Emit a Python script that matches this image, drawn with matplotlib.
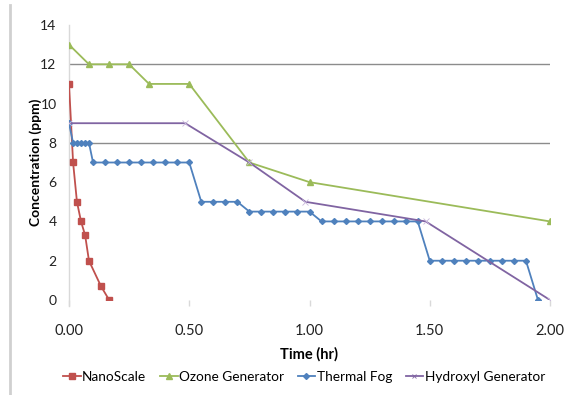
import matplotlib
matplotlib.use("Agg")
import matplotlib.pyplot as plt
from matplotlib.lines import Line2D

plt.rcParams['font.family'] = ['Lato', 'DejaVu Sans']

# data (time in hours, concentration in ppm)
nano_t = [0.0, 0.017, 0.033, 0.05, 0.067, 0.083, 0.133, 0.167]
nano_c = [11, 7, 5, 4, 3.3, 2, 0.7, 0]

ozone_t = [0.0, 0.083, 0.167, 0.25, 0.333, 0.5, 0.75, 1.0, 2.0]
ozone_c = [13, 12, 12, 12, 11, 11, 7, 6, 4]

fog_t = [0.0, 0.017, 0.033, 0.05, 0.067, 0.083,
         0.10, 0.15, 0.20, 0.25, 0.30, 0.35, 0.40, 0.45, 0.50,
         0.55, 0.60, 0.65, 0.70,
         0.75, 0.80, 0.85, 0.90, 0.95, 1.00,
         1.05, 1.10, 1.15, 1.20, 1.25, 1.30, 1.35, 1.40, 1.45,
         1.50, 1.55, 1.60, 1.65, 1.70, 1.75, 1.80, 1.85, 1.90,
         1.95]
fog_c = [9, 8, 8, 8, 8, 8,
         7, 7, 7, 7, 7, 7, 7, 7, 7,
         5, 5, 5, 5,
         4.5, 4.5, 4.5, 4.5, 4.5, 4.5,
         4, 4, 4, 4, 4, 4, 4, 4, 4,
         2, 2, 2, 2, 2, 2, 2, 2, 2,
         0]

hydroxyl_t = [0.0, 0.483, 0.75, 0.983, 1.483, 2.0]
hydroxyl_c = [9, 9, 7, 5, 4, 0]

x_ticks = [0.0, 0.5, 1.0, 1.5, 2.0]
y_ticks = [0, 2, 4, 6, 8, 10, 12, 14]
grid_levels = [8, 12]

RED = "#C0504D"
GREEN = "#9BBB59"
BLUE = "#4F81BD"
PURPLE = "#8064A2"

fig = plt.figure(figsize=(5.66, 3.95), dpi=100)
ax = fig.add_axes([69 / 566, 95 / 395, 481 / 566, 275 / 395])

for level in grid_levels:
    ax.axhline(level, color="#8C8C8C", lw=1.0, zorder=1)

ax.plot(nano_t, nano_c, color=RED, lw=1.3, marker="s", ms=4.5, label="NanoScale", zorder=3)
ax.plot(ozone_t, ozone_c, color=GREEN, lw=1.3, marker="^", ms=5, label="Ozone Generator", zorder=3)
ax.plot(fog_t, fog_c, color=BLUE, lw=1.3, marker="D", ms=3, label="Thermal Fog", zorder=3)
ax.plot(hydroxyl_t, hydroxyl_c, color=PURPLE, lw=1.3, marker="x", ms=4, mew=0.6,
        mec="#C9B8DC", label="Hydroxyl Generator", zorder=3)

ax.set_xlim(0, 2.0)
ax.set_ylim(0, 14)
ax.set_xticks(x_ticks)
ax.set_xticklabels([f"{v:.2f}" for v in x_ticks])
ax.set_yticks(y_ticks)

for side in ["top", "right", "bottom"]:
    ax.spines[side].set_visible(False)
ax.spines["left"].set_color("#D9D9D9")
ax.spines["left"].set_linewidth(1.0)
ax.spines["left"].set_bounds(-0.3, 14)

ax.tick_params(axis="y", length=0, pad=9, labelsize=10, labelcolor="#222222")
ax.tick_params(axis="x", length=4, width=1, color="#D9D9D9", pad=13,
               labelsize=10.5, labelcolor="#222222")

ax.set_xlabel("Time (hr)", fontsize=10.5, fontweight="bold", labelpad=7)
ax.set_ylabel("Concentration (ppm)", fontsize=10, fontweight="bold", labelpad=-1)

handles = [
    Line2D([], [], color=RED, lw=1.3, marker="s", ms=4),
    Line2D([], [], color=GREEN, lw=1.3, marker="^", ms=4),
    Line2D([], [], color=BLUE, lw=1.3, marker="D", ms=3),
    Line2D([], [], color=PURPLE, lw=1.3, marker="x", ms=3, mew=0.6),
]
labels = ["NanoScale", "Ozone Generator", "Thermal Fog", "Hydroxyl Generator"]
fig.legend(handles, labels, loc="center", bbox_to_anchor=(304 / 566, 0.045), ncol=4,
           frameon=False, fontsize=9.8, handlelength=1.3, handletextpad=0.1,
           columnspacing=1.0, borderpad=0.1)

# page edge on the left of the scanned figure
fig.add_artist(Line2D([10 / 566, 10 / 566], [0, 390 / 395], color="#D0D0D0", lw=2))

fig.savefig("out.png", dpi=100)
